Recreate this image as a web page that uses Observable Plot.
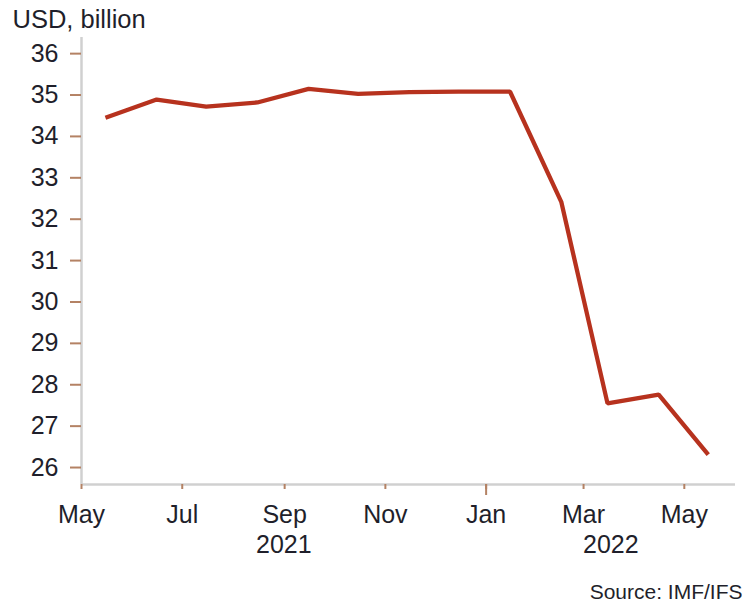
<!DOCTYPE html>
<html>
<head>
<meta charset="utf-8">
<script src="https://cdn.jsdelivr.net/npm/d3@7"></script>
<script src="https://cdn.jsdelivr.net/npm/@observablehq/plot@0.6"></script>
<style>
  html, body { margin: 0; padding: 0; background: #fff; }
  #chart svg { display: block; }
</style>
</head>
<body>
<div id="chart"></div>
<script>
// Data (monthly, plotted mid-month)
const months = ["2021-05","2021-06","2021-07","2021-08","2021-09","2021-10","2021-11","2021-12","2022-01","2022-02","2022-03","2022-04","2022-05"];
const values = [34.45, 34.89, 34.72, 34.82, 35.15, 35.03, 35.07, 35.08, 35.08, 32.42, 27.55, 27.76, 26.31];
const yTicks = [26, 27, 28, 29, 30, 31, 32, 33, 34, 35, 36];
const xTickMonths = ["2021-05","2021-07","2021-09","2021-11","2022-01","2022-03","2022-05"];
const yearLabels = ["2021", "2022"];
const yearSpans = [["2021-05-01","2022-01-01"],["2022-01-01","2022-06-01"]];
const yLabel = "USD, billion";
const source = "Source: IMF/IFS";

const parse = s => new Date(s.length === 7 ? s + "-01T00:00:00Z" : s + "T00:00:00Z");
const data = months.map((m, i) => ({date: new Date(Date.parse(m + "-01T00:00:00Z") + 14.5 * 864e5), value: values[i]}));
const xTicks = xTickMonths.map(parse);
const years = yearLabels.map((label, i) => {
  const a = parse(yearSpans[i][0]), b = parse(yearSpans[i][1]);
  return {label, date: new Date((+a + +b) / 2)};
});
const xDomain = [parse("2021-05-01"), parse("2022-06-01")];
const yDomain = [25.59, 36.39];

const font = "'Liberation Sans', Arial, sans-serif";
const textColor = "#1f1f2b";
const tickColor = "#b48264";
const axisColor = "#d0d0d0";
const lineColor = "#b7321e";

const chart = Plot.plot({
  width: 744,
  height: 603,
  marginLeft: 81,
  marginRight: 9,
  marginTop: 37,
  marginBottom: 119,
  style: {fontFamily: font, fontSize: "25px", color: textColor, background: "#fff"},
  x: {type: "utc", domain: xDomain},
  y: {domain: yDomain},
  marks: [
    Plot.ruleX([xDomain[0]], {stroke: axisColor, strokeWidth: 2.5}),
    Plot.ruleY([yDomain[0]], {stroke: axisColor, strokeWidth: 2.5}),
    Plot.axisY(yTicks, {tickSize: 11, tickPadding: 12, stroke: tickColor, strokeWidth: 2, fill: textColor, fontSize: 25, label: null}),
    Plot.axisX(xTicks, {tickSize: 5, tickPadding: 16, stroke: tickColor, strokeWidth: 2, fill: textColor, fontSize: 25, tickFormat: d3.utcFormat("%b"), label: null}),
    Plot.axisX([parse("2022-01-01")], {tickSize: 11, stroke: tickColor, strokeWidth: 2, tickFormat: () => "", label: null}),
    Plot.text(years, {x: "date", text: "label", frameAnchor: "bottom", dy: 68, fontSize: 25, fill: textColor}),
    Plot.line(data, {x: "date", y: "value", stroke: lineColor, strokeWidth: 4.3, strokeLinejoin: "miter", strokeLinecap: "butt"}),
    Plot.text([yLabel], {frameAnchor: "top-left", dx: -69, dy: -10, textAnchor: "start", lineAnchor: "bottom", fontSize: 25.5, fill: textColor}),
    Plot.text([source], {frameAnchor: "bottom-right", dx: 7, dy: 114, textAnchor: "end", lineAnchor: "bottom", fontSize: 21, fill: textColor})
  ]
});
document.getElementById("chart").appendChild(chart);
</script>
</body>
</html>
